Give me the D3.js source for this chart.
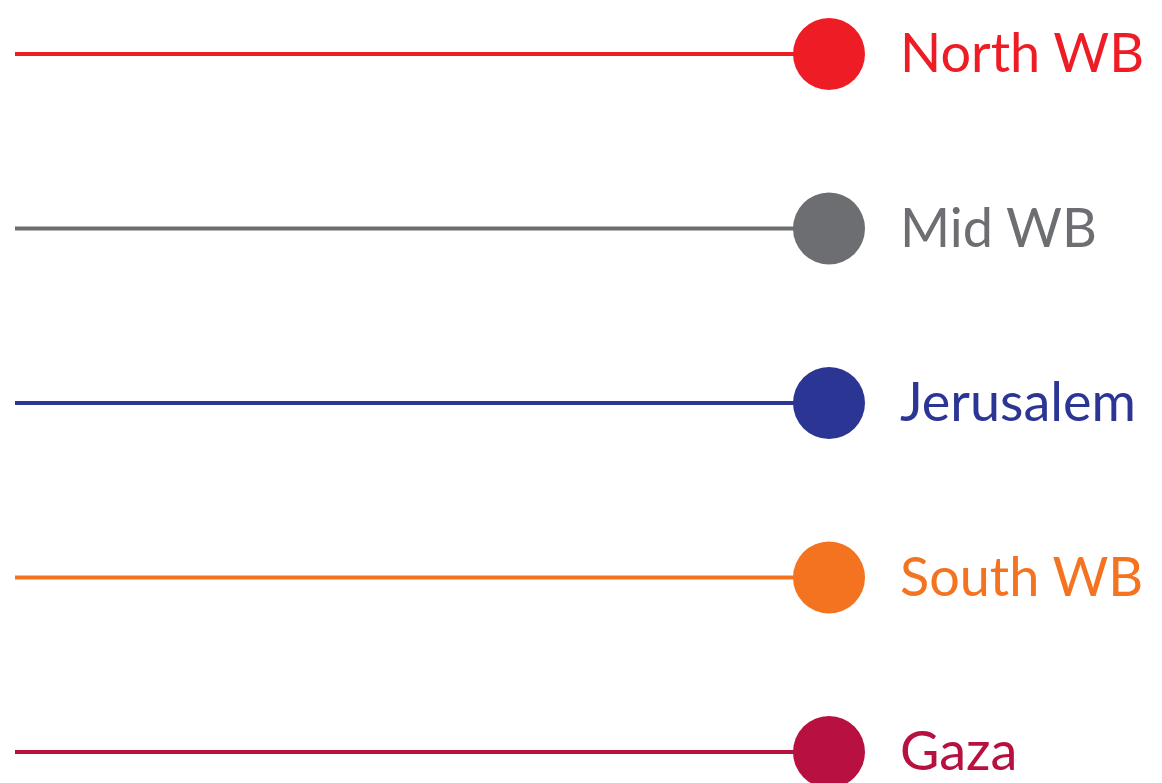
<!DOCTYPE html>
<html>
<head>
<meta charset="utf-8">
<script src="https://cdn.jsdelivr.net/npm/d3@7"></script>
<style>
  html, body { margin: 0; padding: 0; background: #ffffff; }
  #chart { width: 1162px; height: 783px; }
</style>
</head>
<body>
<div id="chart"></div>
<script>
// legend entries, top to bottom
const regions = ["North WB", "Mid WB", "Jerusalem", "South WB", "Gaza"];
const regionColors = ["#ee1d25", "#6d6e71", "#2b3593", "#f47321", "#b8103f"];

const width = 1162;
const height = 783;

const svg = d3.select("#chart")
    .append("svg")
    .attr("width", width)
    .attr("height", height);

const y = d3.scalePoint()
    .domain(regions)
    .range([54, 752]);

const lineStart = 15;
const dotX = 829;
const dotR = 36;

const color = d3.scaleOrdinal()
    .domain(regions)
    .range(regionColors);

const rows = svg.selectAll("g.row")
    .data(regions)
    .enter()
    .append("g")
    .attr("class", "row")
    .attr("transform", d => `translate(0, ${y(d)})`);

rows.append("line")
    .attr("x1", lineStart)
    .attr("x2", dotX)
    .attr("y1", 0)
    .attr("y2", 0)
    .attr("stroke", d => color(d))
    .attr("stroke-width", 4);

rows.append("circle")
    .attr("cx", dotX)
    .attr("cy", 0)
    .attr("r", dotR)
    .attr("fill", d => color(d));

rows.append("text")
    .attr("x", 900)
    .attr("y", 0)
    .attr("dy", "0.34em")
    .attr("fill", d => color(d))
    .style("font-family", "Lato, 'Open Sans', sans-serif")
    .style("font-size", "54px")
    .text(d => d);
</script>
</body>
</html>
